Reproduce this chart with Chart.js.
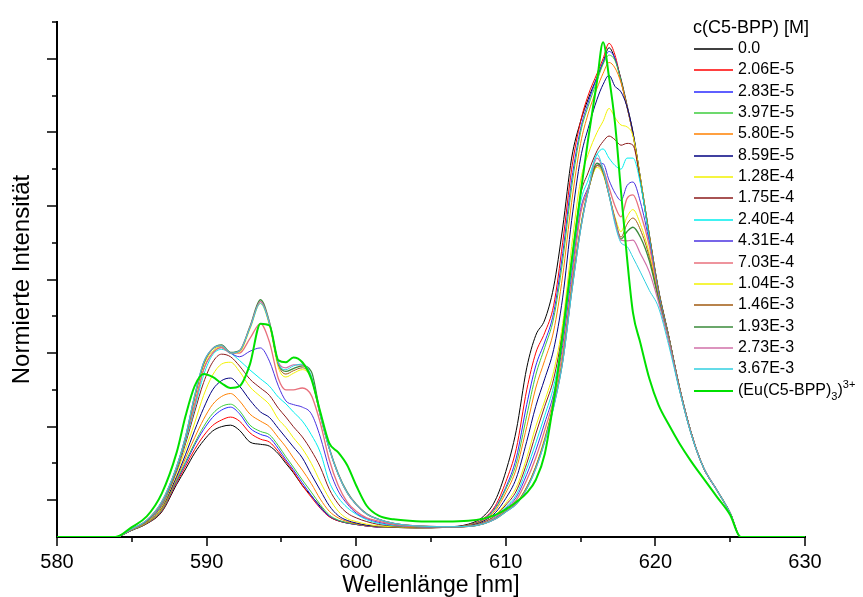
<!DOCTYPE html>
<html>
<head>
<meta charset="utf-8">
<script src="https://cdn.jsdelivr.net/npm/chart.js@4.4.1/dist/chart.umd.min.js"></script>
<style>
  html, body { margin: 0; padding: 0; background: #fff; }
</style>
</head>
<body>
<canvas id="spectra" width="863" height="597"></canvas>
<script>
// Wellenlängen-Raster (nm), gemeinsam für alle Spektren
const wavelengths = [580, 583.9, 585, 586, 587, 588, 588.6, 589.2, 589.8, 590.4,
  591, 591.6, 592.2, 592.9, 593.6, 594.2, 594.8, 595.3, 595.8, 596.4,
  597, 597.6, 598.2, 598.8, 599.4, 600, 600.7, 601.5, 602.5, 604,
  606, 607.5, 608.5, 609.3, 610, 610.7, 611.4, 612, 612.6, 613.2,
  613.8, 614.4, 615, 615.5, 616.1, 616.5, 616.9, 617.3, 617.7, 618.1,
  618.5, 619, 619.6, 620.2, 620.9, 621.6, 622.4, 623.2, 624.1, 625,
  625.7, 630];

// normierte Emissionsintensität je Konzentration
const c0 = [0, 0, 0.018, 0.036, 0.068, 0.143, 0.185, 0.228, 0.262, 0.288,
  0.3, 0.304, 0.29, 0.258, 0.252, 0.247, 0.226, 0.2, 0.175, 0.14,
  0.112, 0.083, 0.056, 0.044, 0.038, 0.034, 0.03, 0.027, 0.026, 0.025,
  0.027, 0.035, 0.056, 0.1, 0.178, 0.29, 0.46, 0.548, 0.59, 0.68,
  0.84, 1.03, 1.13, 1.19, 1.25, 1.29, 1.33, 1.3, 1.245, 1.175,
  1.1, 0.975, 0.82, 0.675, 0.545, 0.41, 0.283, 0.19, 0.128, 0.065, 0, 0];
const c2_06e5 = [0, 0, 0.019, 0.037, 0.07, 0.148, 0.193, 0.238, 0.275, 0.303,
  0.318, 0.326, 0.315, 0.283, 0.266, 0.258, 0.232, 0.205, 0.178, 0.14,
  0.108, 0.078, 0.055, 0.044, 0.038, 0.034, 0.03, 0.027, 0.026, 0.025,
  0.026, 0.033, 0.05, 0.085, 0.15, 0.24, 0.4, 0.5, 0.555, 0.63,
  0.8, 1.0, 1.13, 1.2, 1.26, 1.3, 1.342, 1.31, 1.24, 1.17,
  1.095, 0.97, 0.815, 0.67, 0.543, 0.408, 0.282, 0.19, 0.128, 0.065, 0, 0];
const c2_83e5 = [0, 0, 0.019, 0.038, 0.072, 0.152, 0.2, 0.25, 0.292, 0.325,
  0.345, 0.353, 0.335, 0.296, 0.279, 0.27, 0.24, 0.21, 0.183, 0.147,
  0.113, 0.08, 0.057, 0.045, 0.038, 0.034, 0.03, 0.027, 0.026, 0.025,
  0.026, 0.032, 0.048, 0.08, 0.135, 0.215, 0.36, 0.465, 0.53, 0.61,
  0.77, 0.97, 1.11, 1.18, 1.25, 1.29, 1.32, 1.3, 1.24, 1.17,
  1.095, 0.97, 0.815, 0.67, 0.543, 0.408, 0.282, 0.19, 0.128, 0.065, 0, 0];
const c3_97e5 = [0, 0, 0.019, 0.038, 0.073, 0.155, 0.205, 0.255, 0.3, 0.335,
  0.355, 0.361, 0.343, 0.304, 0.287, 0.278, 0.248, 0.218, 0.19, 0.155,
  0.122, 0.088, 0.06, 0.046, 0.039, 0.035, 0.031, 0.028, 0.026, 0.025,
  0.026, 0.032, 0.047, 0.077, 0.13, 0.2, 0.33, 0.44, 0.515, 0.595,
  0.75, 0.95, 1.1, 1.17, 1.24, 1.285, 1.31, 1.295, 1.24, 1.17,
  1.095, 0.97, 0.815, 0.67, 0.543, 0.408, 0.282, 0.19, 0.128, 0.065, 0, 0];
const c5_80e5 = [0, 0, 0.02, 0.039, 0.076, 0.16, 0.215, 0.27, 0.32, 0.36,
  0.382, 0.39, 0.37, 0.334, 0.315, 0.3, 0.27, 0.245, 0.215, 0.182,
  0.145, 0.103, 0.07, 0.052, 0.042, 0.036, 0.031, 0.028, 0.026, 0.025,
  0.026, 0.031, 0.045, 0.072, 0.12, 0.185, 0.3, 0.405, 0.48, 0.56,
  0.71, 0.91, 1.07, 1.15, 1.22, 1.26, 1.29, 1.275, 1.235, 1.17,
  1.095, 0.97, 0.815, 0.67, 0.543, 0.408, 0.282, 0.19, 0.128, 0.065, 0, 0];
const c8_59e5 = [0, 0, 0.02, 0.04, 0.08, 0.165, 0.225, 0.29, 0.35, 0.4,
  0.425, 0.432, 0.41, 0.372, 0.34, 0.325, 0.295, 0.27, 0.245, 0.215,
  0.17, 0.127, 0.085, 0.058, 0.045, 0.038, 0.032, 0.029, 0.027, 0.026,
  0.026, 0.03, 0.043, 0.066, 0.105, 0.16, 0.26, 0.355, 0.43, 0.51,
  0.65, 0.86, 1.03, 1.11, 1.19, 1.23, 1.255, 1.225, 1.21, 1.17,
  1.1, 0.975, 0.82, 0.672, 0.543, 0.408, 0.282, 0.19, 0.128, 0.065, 0, 0];
const c1_28e4 = [0, 0, 0.02, 0.04, 0.082, 0.175, 0.24, 0.31, 0.385, 0.44,
  0.47, 0.475, 0.45, 0.408, 0.382, 0.36, 0.32, 0.298, 0.27, 0.24,
  0.2, 0.15, 0.105, 0.07, 0.05, 0.042, 0.035, 0.03, 0.028, 0.026,
  0.026, 0.029, 0.04, 0.06, 0.092, 0.135, 0.215, 0.3, 0.37, 0.45,
  0.58, 0.79, 0.97, 1.04, 1.1, 1.13, 1.165, 1.14, 1.12, 1.115,
  1.09, 0.975, 0.82, 0.672, 0.543, 0.408, 0.282, 0.19, 0.128, 0.065, 0, 0];
const c1_75e4 = [0, 0, 0.021, 0.042, 0.086, 0.18, 0.255, 0.34, 0.42, 0.475,
  0.497, 0.49, 0.465, 0.429, 0.405, 0.385, 0.35, 0.326, 0.3, 0.272,
  0.235, 0.19, 0.13, 0.09, 0.065, 0.052, 0.042, 0.034, 0.03, 0.027,
  0.027, 0.029, 0.04, 0.058, 0.087, 0.125, 0.2, 0.28, 0.355, 0.43,
  0.56, 0.75, 0.93, 0.99, 1.05, 1.075, 1.09, 1.08, 1.065, 1.07,
  1.065, 0.965, 0.815, 0.67, 0.543, 0.408, 0.282, 0.19, 0.128, 0.065, 0, 0];
const c2_40e4 = [0, 0, 0.021, 0.043, 0.088, 0.185, 0.262, 0.35, 0.44, 0.495,
  0.51, 0.5, 0.48, 0.454, 0.43, 0.41, 0.38, 0.362, 0.34, 0.315,
  0.278, 0.23, 0.15, 0.107, 0.08, 0.062, 0.047, 0.037, 0.031, 0.028,
  0.027, 0.029, 0.038, 0.055, 0.082, 0.115, 0.185, 0.255, 0.33, 0.41,
  0.54, 0.73, 0.91, 0.97, 1.04, 1.055, 1.03, 1.01, 1.0, 1.03,
  1.03, 0.96, 0.81, 0.665, 0.54, 0.406, 0.282, 0.19, 0.128, 0.065, 0, 0];
const c4_31e4 = [0, 0, 0.021, 0.043, 0.09, 0.188, 0.268, 0.36, 0.455, 0.5,
  0.515, 0.5, 0.49, 0.505, 0.514, 0.478, 0.41, 0.37, 0.36, 0.353,
  0.335, 0.272, 0.185, 0.125, 0.09, 0.065, 0.05, 0.04, 0.033, 0.028,
  0.027, 0.029, 0.037, 0.053, 0.078, 0.108, 0.17, 0.235, 0.31, 0.39,
  0.52, 0.71, 0.89, 0.95, 1.01, 1.015, 0.97, 0.935, 0.915, 0.955,
  0.965, 0.91, 0.8, 0.66, 0.538, 0.405, 0.28, 0.19, 0.128, 0.065, 0, 0];
const c7_03e4 = [0, 0, 0.021, 0.044, 0.092, 0.19, 0.27, 0.36, 0.455, 0.5,
  0.515, 0.5, 0.5, 0.54, 0.58, 0.53, 0.43, 0.4, 0.4, 0.405,
  0.385, 0.31, 0.21, 0.14, 0.095, 0.07, 0.052, 0.043, 0.034, 0.029,
  0.028, 0.029, 0.037, 0.052, 0.075, 0.1, 0.155, 0.215, 0.29, 0.375,
  0.5, 0.69, 0.88, 0.945, 1.01, 1.0, 0.95, 0.9, 0.87, 0.92,
  0.93, 0.88, 0.79, 0.655, 0.536, 0.404, 0.28, 0.19, 0.128, 0.065, 0, 0];
const c1_04e3 = [0, 0, 0.022, 0.045, 0.094, 0.19, 0.27, 0.375, 0.465, 0.505,
  0.518, 0.5, 0.503, 0.565, 0.635, 0.575, 0.46, 0.435, 0.445, 0.455,
  0.43, 0.33, 0.24, 0.17, 0.12, 0.088, 0.062, 0.048, 0.037, 0.03,
  0.028, 0.029, 0.036, 0.05, 0.07, 0.093, 0.137, 0.193, 0.27, 0.365,
  0.485, 0.675, 0.845, 0.94, 1.005, 0.985, 0.93, 0.87, 0.83, 0.87,
  0.89, 0.85, 0.77, 0.65, 0.535, 0.404, 0.28, 0.19, 0.128, 0.065, 0, 0];
const c1_46e3 = [0, 0, 0.022, 0.045, 0.095, 0.19, 0.27, 0.38, 0.47, 0.51,
  0.52, 0.5, 0.505, 0.57, 0.64, 0.58, 0.468, 0.443, 0.452, 0.46,
  0.432, 0.33, 0.24, 0.17, 0.12, 0.088, 0.062, 0.048, 0.037, 0.03,
  0.028, 0.029, 0.036, 0.05, 0.07, 0.092, 0.135, 0.19, 0.265, 0.36,
  0.48, 0.67, 0.84, 0.94, 1.01, 0.99, 0.93, 0.865, 0.815, 0.85,
  0.867, 0.835, 0.76, 0.65, 0.535, 0.404, 0.28, 0.19, 0.128, 0.065, 0, 0];
const c1_93e3 = [0, 0, 0.022, 0.045, 0.095, 0.19, 0.272, 0.382, 0.472, 0.512,
  0.522, 0.502, 0.507, 0.572, 0.645, 0.585, 0.472, 0.45, 0.458, 0.465,
  0.45, 0.335, 0.242, 0.172, 0.122, 0.089, 0.063, 0.048, 0.037, 0.03,
  0.028, 0.029, 0.036, 0.049, 0.069, 0.09, 0.133, 0.188, 0.262, 0.357,
  0.478, 0.668, 0.838, 0.94, 1.016, 0.995, 0.93, 0.86, 0.81, 0.83,
  0.842, 0.815, 0.75, 0.648, 0.535, 0.404, 0.28, 0.19, 0.128, 0.065, 0, 0];
const c2_73e3 = [0, 0, 0.022, 0.046, 0.096, 0.192, 0.274, 0.384, 0.474, 0.512,
  0.52, 0.5, 0.506, 0.57, 0.64, 0.582, 0.475, 0.46, 0.468, 0.468,
  0.435, 0.33, 0.24, 0.17, 0.12, 0.088, 0.062, 0.048, 0.037, 0.03,
  0.028, 0.029, 0.036, 0.049, 0.069, 0.09, 0.132, 0.186, 0.26, 0.355,
  0.476, 0.665, 0.836, 0.94, 1.03, 1.0, 0.93, 0.86, 0.807, 0.805,
  0.807, 0.77, 0.72, 0.64, 0.532, 0.403, 0.28, 0.19, 0.128, 0.065, 0, 0];
const c3_67e3 = [0, 0, 0.022, 0.046, 0.096, 0.192, 0.275, 0.385, 0.475, 0.512,
  0.52, 0.5, 0.506, 0.568, 0.635, 0.58, 0.472, 0.455, 0.465, 0.47,
  0.438, 0.332, 0.24, 0.17, 0.12, 0.088, 0.062, 0.048, 0.037, 0.03,
  0.028, 0.029, 0.036, 0.049, 0.068, 0.089, 0.13, 0.184, 0.258, 0.352,
  0.474, 0.662, 0.834, 0.94, 1.04, 1.0, 0.93, 0.85, 0.8, 0.79,
  0.76, 0.72, 0.67, 0.625, 0.52, 0.4, 0.278, 0.19, 0.128, 0.065, 0, 0];
// reiner Komplex (Eu(C5-BPP)3)3+
const euComplex = [0, 0, 0.027, 0.056, 0.118, 0.23, 0.33, 0.41, 0.443, 0.435,
  0.418, 0.405, 0.41, 0.47, 0.58, 0.575, 0.48, 0.475, 0.488, 0.475,
  0.43, 0.34, 0.255, 0.23, 0.195, 0.14, 0.085, 0.058, 0.048, 0.043,
  0.042, 0.044, 0.05, 0.06, 0.075, 0.095, 0.12, 0.155, 0.225, 0.37,
  0.55, 0.75, 0.935, 1.08, 1.24, 1.345, 1.25, 1.125, 0.94, 0.76,
  0.61, 0.527, 0.43, 0.36, 0.305, 0.255, 0.205, 0.16, 0.11, 0.06, 0, 0];

const seriesValues = [c0, c2_06e5, c2_83e5, c3_97e5, c5_80e5, c8_59e5, c1_28e4, c1_75e4,
  c2_40e4, c4_31e4, c7_03e4, c1_04e3, c1_46e3, c1_93e3, c2_73e3, c3_67e3, euComplex];
const seriesLabels = ['0.0', '2.06E-5', '2.83E-5', '3.97E-5', '5.80E-5', '8.59E-5', '1.28E-4',
  '1.75E-4', '2.40E-4', '4.31E-4', '7.03E-4', '1.04E-3', '1.46E-3', '1.93E-3', '2.73E-3',
  '3.67E-3', '(Eu(C5-BPP)3)3+'];
const seriesColors = ['#000000', '#ff0000', '#2a2aff', '#3ccc3c', '#ff8000', '#000080', '#f2f200',
  '#8b1a1a', '#00eeee', '#4a32e0', '#e8707c', '#f2f200', '#a05a10', '#3a8a3a', '#d070a8',
  '#30cfe0', '#00e000'];
const seriesWidths = [1, 1, 1, 1, 1, 1, 1, 1, 1, 1, 1.3, 1, 1, 1.3, 1.2, 1, 2];

// Achsen
const xMin = 580, xMax = 630, xStep = 5;
const yMin = 0, yMax = 1.4, yStep = 0.1;
const xTitle = 'Wellenlänge [nm]';
const yTitle = 'Normierte Intensität';
const legendTitle = 'c(C5-BPP) [M]';
// Legendentext des Komplexes mit Index/Exponent: [Text, Verschiebung]
const euLabelParts = [['(Eu(C5-BPP)', 0], ['3', 1], [')', 0], ['3+', -1]];

const fontFamily = '"Liberation Sans", Arial, sans-serif';

const datasets = seriesValues.map((vals, i) => ({
  label: seriesLabels[i],
  data: vals.map((v, k) => ({ x: wavelengths[k], y: v })),
  borderColor: seriesColors[i],
  borderWidth: seriesWidths[i],
  pointRadius: 0,
  fill: false,
  cubicInterpolationMode: 'monotone',
  order: seriesValues.length - 1 - i
}));

// Tick-Striche: lange und kurze Striche nach außen
const axisTicks = {
  id: 'axisTicks',
  afterDraw(chart) {
    const ctx = chart.ctx;
    const xs = chart.scales.x;
    const ys = chart.scales.y;
    ctx.save();
    ctx.strokeStyle = '#000';
    ctx.lineWidth = 1.5;
    ctx.beginPath();
    xs.ticks.forEach(t => {
      const px = Math.round(xs.getPixelForValue(t.value));
      const len = t.value % 10 === 0 ? 9 : 5;
      ctx.moveTo(px, xs.top);
      ctx.lineTo(px, xs.top + len);
    });
    ys.ticks.forEach(t => {
      const tenth = Math.round(t.value * 10);
      if (tenth === 0) return;
      const py = Math.round(ys.getPixelForValue(t.value));
      const len = tenth % 2 === 1 ? 10 : 5;
      ctx.moveTo(ys.right - len, py);
      ctx.lineTo(ys.right, py);
    });
    ctx.stroke();
    ctx.restore();
  }
};

// Legende oben rechts im Diagramm
const concLegend = {
  id: 'concLegend',
  afterDraw(chart) {
    const ctx = chart.ctx;
    const lineX = 694, lineLen = 39, textX = 738, firstY = 49, rowH = 21.35;
    ctx.save();
    ctx.fillStyle = '#000';
    ctx.textBaseline = 'middle';
    ctx.font = '18px ' + fontFamily;
    ctx.fillText(legendTitle, 693, 28);
    chart.data.datasets.forEach((ds, i) => {
      const y = Math.round(firstY + i * rowH);
      ctx.strokeStyle = ds.borderColor;
      ctx.lineWidth = Math.max(ds.borderWidth, 1.6);
      ctx.beginPath();
      ctx.moveTo(lineX, y);
      ctx.lineTo(lineX + lineLen, y);
      ctx.stroke();
      if (i === chart.data.datasets.length - 1) {
        let x = textX;
        euLabelParts.forEach(([txt, shift]) => {
          ctx.font = (shift === 0 ? '16px ' : '11px ') + fontFamily;
          ctx.fillText(txt, x, y + shift * 6);
          x += ctx.measureText(txt).width;
        });
      } else {
        ctx.font = '16px ' + fontFamily;
        ctx.fillText(ds.label, textX, y);
      }
    });
    ctx.restore();
  }
};

new Chart(document.getElementById('spectra'), {
  type: 'line',
  data: { datasets },
  options: {
    responsive: false,
    animation: false,
    devicePixelRatio: 1,
    layout: { padding: { top: 22, right: 58, left: 0, bottom: 0 } },
    plugins: {
      legend: { display: false },
      tooltip: { enabled: false }
    },
    scales: {
      x: {
        type: 'linear',
        min: xMin,
        max: xMax,
        afterFit(scale) { scale.height = 60; },
        grid: { display: false, drawTicks: false },
        border: { display: true, color: '#000', width: 2 },
        ticks: {
          stepSize: xStep,
          autoSkip: false,
          maxRotation: 0,
          padding: 13,
          color: '#000',
          font: { family: fontFamily, size: 20 },
          callback: v => (v % 10 === 0 ? String(v) : '')
        },
        title: {
          display: true,
          text: xTitle,
          color: '#000',
          padding: 0,
          font: { family: fontFamily, size: 23, lineHeight: 1 }
        }
      },
      y: {
        type: 'linear',
        min: yMin,
        max: yMax,
        afterFit(scale) { scale.width = 57; },
        grid: { display: false, drawTicks: false },
        border: { display: true, color: '#000', width: 2 },
        ticks: {
          stepSize: yStep,
          autoSkip: false,
          callback: () => ''
        },
        title: {
          display: true,
          text: yTitle,
          color: '#000',
          padding: { top: 8, bottom: 0 },
          font: { family: fontFamily, size: 24 }
        }
      }
    }
  },
  plugins: [axisTicks, concLegend]
});
</script>
</body>
</html>
